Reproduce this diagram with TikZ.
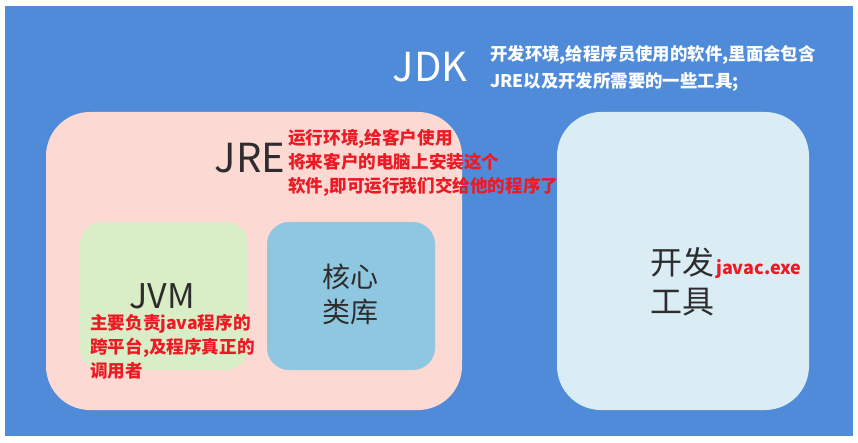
\documentclass[tikz,border=0pt]{standalone}
\usepackage{fontspec}
\setmainfont{Noto Sans CJK SC}
\definecolor{jdkblue}{RGB}{79,139,217}
\definecolor{jrepink}{RGB}{253,217,211}
\definecolor{jvmgreen}{RGB}{217,238,198}
\definecolor{libblue}{RGB}{144,199,224}
\definecolor{toolblue}{RGB}{218,236,244}
\definecolor{notered}{RGB}{236,26,36}
\definecolor{darktext}{RGB}{45,45,45}
\tikzset{
  bigbox/.style={rounded corners=44pt, inner sep=0pt},
  smallbox/.style={rounded corners=22pt, inner sep=0pt, minimum width=168pt, minimum height=148pt},
  rednote/.style={text=notered, font=\bfseries\fontsize{17.6}{24}\selectfont, align=left, inner sep=0pt},
  whitenote/.style={text=white, font=\bfseries\fontsize{17.4}{17.4}\selectfont, inner sep=0pt, anchor=base west},
  title/.style={text=darktext, inner sep=0pt},
}
\begin{document}
\begin{tikzpicture}[x=1pt,y=-1pt]
\useasboundingbox (0,0) rectangle (858,443);
\fill[white] (0,0) rectangle (858,443);
\node[fill=jdkblue, inner sep=0pt, minimum width=848pt, minimum height=430pt] (jdk) at (429,221) {};
\node[text=white, inner sep=0pt, font=\fontsize{40}{40}\selectfont] (jdklabel) at (430,67) {JDK};
\node[whitenote] (jdknote1) at (490,60.5) {开发环境,给程序员使用的软件,里面会包含};
\node[whitenote] (jdknote2) at (490,88) {JRE以及开发所需要的一些工具;};

\node[bigbox, fill=jrepink, minimum width=416pt, minimum height=298pt] (jre) at (254,261) {};
\node[bigbox, fill=toolblue, minimum width=252pt, minimum height=298pt] (tools) at (683,261) {};
\node[smallbox, fill=jvmgreen] (jvm) at (164,296) {};
\node[smallbox, fill=libblue] (lib) at (351,296) {};

\node[title, font=\fontsize{40}{40}\selectfont] (jrelabel) at (250,158) {JRE};
\node[rednote, anchor=west] (jrenote) at (288,163) {运行环境,给客户使用\\将来客户的电脑上安装这个\\软件,即可运行我们交给他的程序了};

\node[title, font=\fontsize{34}{34}\selectfont] (jvmlabel) at (162,296) {JVM};
\node[rednote, anchor=west] (jvmnote) at (90,347) {主要负责java程序的\\跨平台,及程序真正的\\调用者};

\node[title, font=\fontsize{28}{35}\selectfont, align=center] (liblabel) at (350,294) {核心\\类库};

\node[title, font=\fontsize{32}{39}\selectfont, align=left, anchor=west] (toollabel) at (650,282) {开发\\工具};
\node[text=notered, font=\bfseries\fontsize{18}{18}\selectfont, inner sep=0pt, anchor=base west] (javac) at (716,275) {javac.exe};
\end{tikzpicture}
\end{document}
